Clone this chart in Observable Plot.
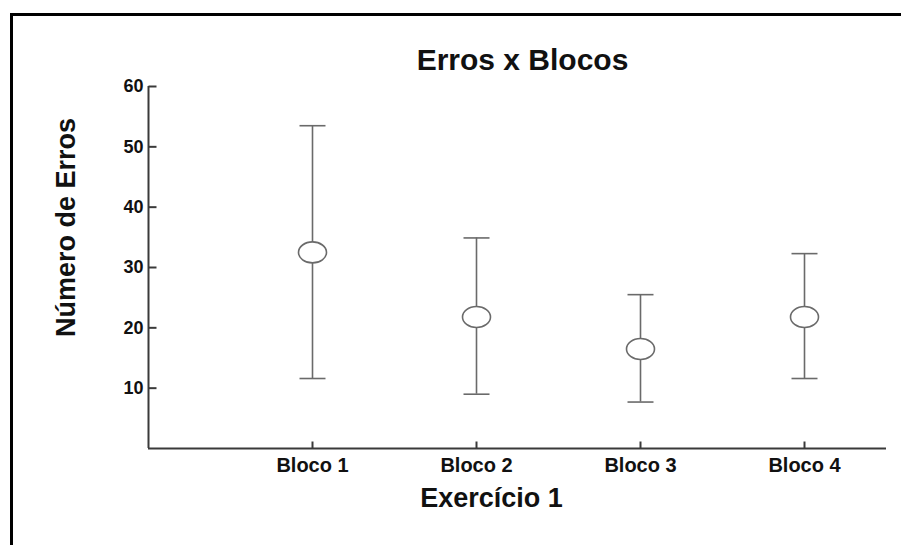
<!DOCTYPE html>
<html>
<head>
<meta charset="utf-8">
<script src="https://cdn.jsdelivr.net/npm/d3@7"></script>
<script src="https://cdn.jsdelivr.net/npm/@observablehq/plot@0.6"></script>
<style>
  html, body { margin: 0; padding: 0; background: #fff; }
  #wrap { position: relative; width: 901px; height: 545px; overflow: hidden; }
  #border { position: absolute; left: 10px; top: 13px; width: 900px; height: 540px;
            border-top: 3px solid #000; border-left: 3px solid #000; pointer-events: none; }
  svg { font-family: "Liberation Sans", Arial, Helvetica, sans-serif; }
</style>
</head>
<body>
<div id="wrap"><div id="border"></div></div>
<script>
const blocos = ["Bloco 1", "Bloco 2", "Bloco 3", "Bloco 4"];
const medias = [32.5, 21.8, 16.5, 21.8];
const superior = [53.5, 34.9, 25.5, 32.3];
const inferior = [11.6, 9.0, 7.7, 11.6];
const yTicks = [10, 20, 30, 40, 50, 60];
const titulo = "Erros x Blocos";
const tituloY = "Número de Erros";
const tituloX = "Exercício 1";

const data = blocos.map((b, i) => ({pos: i + 1, bloco: b, media: medias[i], hi: superior[i], lo: inferior[i]}));
const xPos = blocos.map((b, i) => i + 1);

const ellipse = {
  draw(ctx, size) {
    const rx = 14, ry = 10.5, k = 0.5523;
    ctx.moveTo(rx, 0);
    ctx.bezierCurveTo(rx, ry * k, rx * k, ry, 0, ry);
    ctx.bezierCurveTo(-rx * k, ry, -rx, ry * k, -rx, 0);
    ctx.bezierCurveTo(-rx, -ry * k, -rx * k, -ry, 0, -ry);
    ctx.bezierCurveTo(rx * k, -ry, rx, -ry * k, rx, 0);
    ctx.closePath();
  }
};
const cap = {
  draw(ctx, size) { ctx.moveTo(-13, 0); ctx.lineTo(13, 0); }
};
const tickUp = {
  draw(ctx, size) { ctx.moveTo(0, 0); ctx.lineTo(0, -7); }
};
const tickRight = {
  draw(ctx, size) { ctx.moveTo(0, 0); ctx.lineTo(8, 0); }
};

const barColor = "#6a6a6a";
const axisColor = "#3a3a3a";

const chart = Plot.plot({
  width: 901,
  height: 545,
  marginTop: 86,
  marginBottom: 97,
  marginLeft: 148,
  marginRight: 15,
  style: {fontFamily: "'Liberation Sans', Arial, Helvetica, sans-serif", background: "transparent"},
  x: {domain: [0, 4.5]},
  y: {domain: [0, 60]},
  marks: [
    Plot.ruleY([0], {stroke: axisColor, strokeWidth: 2}),
    Plot.ruleX([0], {stroke: axisColor, strokeWidth: 2}),
    Plot.dot(yTicks, {y: d => d, frameAnchor: "left", symbol: tickRight, stroke: axisColor, strokeWidth: 2, r: 5}),
    Plot.dot(xPos, {x: d => d, y: () => 0, symbol: tickUp, stroke: axisColor, strokeWidth: 2, r: 5}),
    Plot.axisY(yTicks, {
      anchor: "left", tickSize: 0, tickPadding: 5,
      fontSize: 18, fontWeight: "bold", fill: "#111", label: null
    }),
    Plot.axisX(xPos, {
      anchor: "bottom", tickSize: 0, tickPadding: 9, tickFormat: d => blocos[d - 1],
      fontSize: 20, fontWeight: "bold", fill: "#111", label: null
    }),
    Plot.ruleX(data, {x: "pos", y1: "lo", y2: "hi", stroke: barColor, strokeWidth: 1.6}),
    Plot.dot(data, {x: "pos", y: "hi", symbol: cap, stroke: barColor, strokeWidth: 1.6, r: 5}),
    Plot.dot(data, {x: "pos", y: "lo", symbol: cap, stroke: barColor, strokeWidth: 1.6, r: 5}),
    Plot.dot(data, {x: "pos", y: "media", symbol: ellipse, fill: "#fff", stroke: barColor, strokeWidth: 1.6, r: 5}),
    Plot.text([titulo], {frameAnchor: "top", dx: 5, dy: -26, lineAnchor: "middle", textAnchor: "middle", fontSize: 30, fontWeight: "bold", fill: "#111"}),
    Plot.text([tituloY], {frameAnchor: "left", dx: -82, dy: -40, rotate: -90, lineAnchor: "middle", textAnchor: "middle", fontSize: 27, fontWeight: "bold", fill: "#111"}),
    Plot.text([tituloX], {frameAnchor: "bottom", dx: -26, dy: 50, lineAnchor: "middle", textAnchor: "middle", fontSize: 27, fontWeight: "bold", fill: "#111"})
  ]
});
document.getElementById("wrap").insertBefore(chart, document.getElementById("border"));
</script>
</body>
</html>
